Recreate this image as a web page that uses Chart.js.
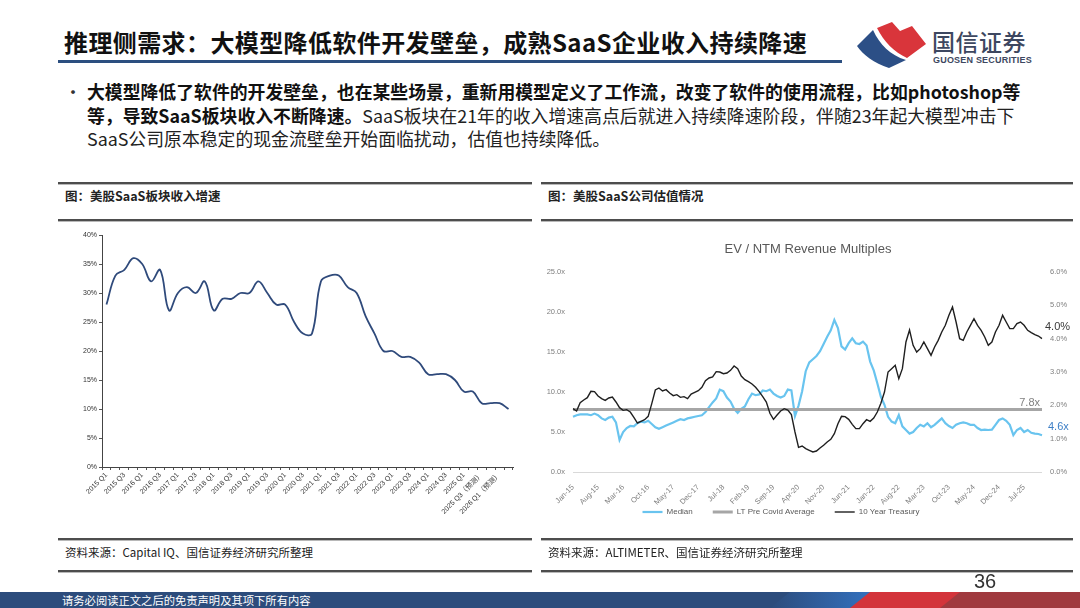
<!DOCTYPE html>
<html lang="zh-CN">
<head>
<meta charset="utf-8">
<title>推理侧需求</title>
<script src="https://cdn.jsdelivr.net/npm/chart.js@4.4.1/dist/chart.umd.min.js"></script>
<style>
html,body{margin:0;padding:0;background:#fff;}
body{width:1080px;height:608px;position:relative;overflow:hidden;font-family:"Noto Sans CJK SC","Noto Sans",sans-serif;color:#111;}
.a{position:absolute;white-space:nowrap;}
#title{left:64px;top:24px;font-size:24px;line-height:36px;font-weight:700;color:#111;letter-spacing:0.4px;}
#tbar{left:58px;top:60px;width:784px;height:3px;background:#2c4f80;}
#bullet{left:64px;top:80px;font-size:18px;line-height:23.5px;color:#333;}
#body{left:87px;top:80px;font-size:17.85px;line-height:23.5px;color:#222;}
#body b{font-weight:700;color:#111;}
.hl{height:0;border-top:2px solid #4d4d4d;border-bottom:1px solid #b8b8b8;}
.cap{font-size:12.5px;line-height:16px;font-weight:700;color:#222;}
.src{font-size:11.5px;line-height:16px;color:#222;}
#logo1{left:932px;top:26px;font-size:23px;line-height:30px;color:#3d4760;font-weight:500;letter-spacing:0.5px;}
#logo2{left:933px;top:55px;font-family:"Liberation Sans Narrow","Liberation Sans",sans-serif;font-size:9px;line-height:10px;font-weight:700;color:#3d4760;letter-spacing:0.2px;}
#pnum{left:974px;top:570px;font-family:"Liberation Sans Narrow","Liberation Sans",sans-serif;font-size:20px;line-height:22px;color:#333;}
#foot{left:62px;top:593px;font-size:11.3px;line-height:15px;color:#fff;}
</style>
</head>
<body>
<div class="a" id="title">推理侧需求：大模型降低软件开发壁垒，成熟SaaS企业收入持续降速</div>
<div class="a" id="tbar"></div>
<svg class="a" style="left:850px;top:16px" width="85" height="56" viewBox="850 16 85 56">
  <path d="M857 46 L873 30 C880 45 890 55 906 60 L889 68 C874 63 863 55 857 46 Z" fill="#2c4f86"/>
  <path d="M877 28 L892 22 L900 31 L912 26 L926 44 L907 58 C894 52 884 42 877 28 Z" fill="#d9353b"/>
</svg>
<div class="a" id="logo1">国信证券</div>
<div class="a" id="logo2">GUOSEN SECURITIES</div>

<div class="a" id="bullet">•</div>
<div class="a" id="body"><b>大模型降低了软件的开发壁垒，也在某些场景，重新用模型定义了工作流，改变了软件的使用流程，比如photoshop等</b><br><b>等，导致SaaS板块收入不断降速。</b>SaaS板块在21年的收入增速高点后就进入持续降速阶段，伴随23年起大模型冲击下<br>SaaS公司原本稳定的现金流壁垒开始面临扰动，估值也持续降低。</div>

<div class="a hl" style="left:58px;top:182px;width:474px"></div>
<div class="a hl" style="left:541px;top:182px;width:532px"></div>
<div class="a cap" style="left:65px;top:188px">图：美股SaaS板块收入增速</div>
<div class="a cap" style="left:548px;top:188px">图：美股SaaS公司估值情况</div>
<div class="a hl" style="left:58px;top:219px;width:474px"></div>
<div class="a hl" style="left:541px;top:219px;width:532px"></div>

<canvas class="a" id="cl" width="470" height="302" style="left:60px;top:225px;width:470px;height:302px"></canvas>
<canvas class="a" id="cr" width="534" height="320" style="left:541px;top:226px;width:534px;height:320px"></canvas>

<div class="a hl" style="left:58px;top:538px;width:474px"></div>
<div class="a hl" style="left:541px;top:538px;width:532px"></div>
<div class="a src" style="left:65px;top:544px">资料来源：Capital IQ、国信证券经济研究所整理</div>
<div class="a src" style="left:548px;top:544px">资料来源：ALTIMETER、国信证券经济研究所整理</div>
<div class="a hl" style="left:58px;top:570px;width:474px"></div>
<div class="a hl" style="left:541px;top:570px;width:532px"></div>
<div class="a" id="pnum">36</div>

<svg class="a" style="left:0;top:592px" width="1080" height="16">
  <defs>
    <linearGradient id="gb" x1="0" x2="1" y1="0" y2="0">
      <stop offset="0" stop-color="#2c4c7c"/><stop offset="1" stop-color="#3474c4"/>
    </linearGradient>
  </defs>
  <rect x="0" y="0" width="1080" height="16" fill="#2c4c7c"/>
  <polygon points="770,16 790,0 880,0 860,16" fill="url(#gb)"/>
  <polygon points="850,16 870,0 965,0 945,16" fill="#d3343b"/>
  <polygon points="940,16 960,0 1080,0 1080,16" fill="#a03a3f"/>
</svg>
<div class="a" id="foot">请务必阅读正文之后的免责声明及其项下所有内容</div>

<script>
// ---------- Left chart data: US SaaS revenue growth (%) ----------
const quarterLabels = [
  '2015 Q1','2015 Q2','2015 Q3','2015 Q4',
  '2016 Q1','2016 Q2','2016 Q3','2016 Q4',
  '2017 Q1','2017 Q2','2017 Q3','2017 Q4',
  '2018 Q1','2018 Q2','2018 Q3','2018 Q4',
  '2019 Q1','2019 Q2','2019 Q3','2019 Q4',
  '2020 Q1','2020 Q2','2020 Q3','2020 Q4',
  '2021 Q1','2021 Q2','2021 Q3','2021 Q4',
  '2022 Q1','2022 Q2','2022 Q3','2022 Q4',
  '2023 Q1','2023 Q2','2023 Q3','2023 Q4',
  '2024 Q1','2024 Q2','2024 Q3','2024 Q4',
  '2025 Q1','2025 Q2','2025 Q3（预测）','2025 Q4（预测）',
  '2026 Q1（预测）','2026 Q2（预测）'
];
const revenueGrowth = [
  28,33,34,36,35,32,34,27,30,31,30,32,27,29,29,30,30,32,30,28,28,25,23,
  23,32,33,33,31,30,26,23,20,20,19,19,18,16,16,16,15,13,13,11,11,11,10
];
const growthTicks = [0,5,10,15,20,25,30,35,40];

// ---------- Right chart data: EV / NTM revenue multiples ----------
const monthNames = ['Jan','Feb','Mar','Apr','May','Jun','Jul','Aug','Sep','Oct','Nov','Dec'];
const yearSuffixes = ['15','16','17','18','19','20','21','22','23','24','25'];
const monthLabels = yearSuffixes.flatMap(y => monthNames.map(m => m + '-' + y));
const medianMultiple = [
  6.9,7.1,7.2,7.2,7.2,7.1,7.3,7.1,6.7,6.5,6.8,6.9,
  6.2,4.0,5.0,5.5,5.75,5.7,6.1,6.3,6.2,6.4,6.0,5.6,
  5.4,5.6,5.8,6.0,6.2,6.4,6.6,6.5,6.7,6.8,6.9,7.0,
  7.1,7.5,8.1,8.7,9.2,10.3,10.1,9.3,8.8,7.9,7.4,7.9,
  8.2,9.1,9.8,9.6,9.7,10.2,10.1,10.3,9.8,9.5,9.3,9.5,
  10.3,10.2,7.0,8.3,10.1,12.6,13.7,14.1,14.5,15.1,16.0,16.9,
  17.7,19.0,18.0,15.7,15.3,16.1,16.7,16.1,16.0,16.3,15.8,13.8,
  12.7,11.1,9.4,8.4,6.9,6.3,6.1,7.1,5.7,5.25,4.8,5.0,
  5.5,5.9,5.7,6.1,5.6,5.9,6.3,6.7,6.1,5.75,5.5,5.9,
  6.1,6.2,6.1,5.9,5.9,5.5,5.25,5.3,5.25,5.3,5.9,6.5,
  6.7,6.4,5.9,4.6,5.25,5.5,5.0,5.25,4.9,4.8,4.75,4.6
];
const treasuryYield = [
  1.9,1.83,2.08,2.16,2.23,2.42,2.41,2.28,2.2,2.15,2.22,2.25,
  2.1,1.93,1.85,1.87,1.8,1.64,1.47,1.52,1.57,1.67,2.05,2.46,
  2.52,2.43,2.47,2.37,2.29,2.32,2.24,2.26,2.2,2.34,2.39,2.44,
  2.54,2.74,2.82,2.85,3.01,3.0,2.95,2.97,3.05,3.18,3.1,2.88,
  2.77,2.71,2.64,2.54,2.41,2.26,2.1,1.76,1.58,1.71,1.83,1.9,
  1.86,1.72,1.2,0.74,0.78,0.70,0.65,0.6,0.63,0.72,0.8,0.9,
  0.98,1.15,1.45,1.67,1.66,1.58,1.43,1.3,1.3,1.45,1.57,1.52,
  1.62,1.8,2.06,2.4,3.0,3.1,3.2,2.8,3.1,3.9,4.26,3.8,
  3.6,3.7,3.9,3.7,3.5,3.75,3.95,4.2,4.4,4.7,4.95,4.5,
  4.0,3.95,4.2,4.4,4.6,4.4,4.25,4.05,3.8,3.9,4.2,4.4,
  4.7,4.5,4.3,4.3,4.45,4.5,4.4,4.25,4.18,4.12,4.08,4.0
];
const LT_PRE_COVID_AVG = 7.8;
const multipleTicks = [0,5,10,15,20,25];
const yieldTicks = [0,1,2,3,4,5,6];
const labelEvery = 7;

const LATIN = '"Liberation Sans","Noto Sans CJK SC",sans-serif';
Chart.defaults.font.family = LATIN;
Chart.defaults.animation = false;

// ---------- Left chart ----------
new Chart(document.getElementById('cl'), {
  type: 'line',
  data: {
    labels: quarterLabels,
    datasets: [{
      data: revenueGrowth,
      borderColor: '#2f4a7b',
      borderWidth: 1.8,
      pointRadius: 0,
      tension: 0.4,
      fill: false
    }]
  },
  options: {
    responsive: false,
    animation: false,
    layout: { padding: { left: 0, right: 17, top: 10, bottom: 0 } },
    plugins: { legend: { display: false }, tooltip: { enabled: false }, title: { display: false } },
    scales: {
      x: {
        offset: true,
        grid: { offset: true, drawOnChartArea: false, color: '#555', tickColor: '#555', tickLength: 3 },
        border: { color: '#444', width: 1 },
        ticks: {
          autoSkip: false, minRotation: 45, maxRotation: 45, padding: 1,
          color: '#333', font: { size: 7, family: LATIN },
          callback: (v, i) => (i % 2 === 0 ? quarterLabels[i] : '')
        },
        afterFit: s => { s.height = 60; }
      },
      y: {
        min: 0, max: 40,
        afterBuildTicks: s => { s.ticks = growthTicks.map(v => ({ value: v })); },
        grid: { drawOnChartArea: false, color: '#555', tickColor: '#555', tickLength: 3 },
        border: { color: '#444', width: 1 },
        ticks: { color: '#333', font: { size: 7, family: LATIN }, padding: 2, callback: v => v + '%' },
        afterFit: s => { s.width = 42; }
      }
    }
  }
});

// ---------- Right chart ----------
const endLabels = {
  id: 'endLabels',
  afterDatasetsDraw(chart) {
    const { ctx, chartArea, scales } = chart;
    const last = medianMultiple.length - 1;
    ctx.save();
    ctx.textBaseline = 'middle';
    ctx.font = '11px ' + LATIN;
    ctx.fillStyle = '#808080';
    ctx.textAlign = 'right';
    ctx.fillText(LT_PRE_COVID_AVG.toFixed(1) + 'x', chartArea.right - 2, scales.y.getPixelForValue(LT_PRE_COVID_AVG) - 7);
    ctx.textAlign = 'left';
    ctx.fillStyle = '#3d7fc6';
    ctx.fillText(medianMultiple[last].toFixed(1) + 'x', chartArea.right + 6, scales.y.getPixelForValue(medianMultiple[last]) - 8);
    ctx.fillStyle = '#3a3a3a';
    ctx.fillText(treasuryYield[last].toFixed(1) + '%', chartArea.right + 3, scales.y2.getPixelForValue(treasuryYield[last]) - 12);
    ctx.restore();
  }
};
// nudge the legend left and up so it sits where the original one does
const legendShift = {
  id: 'legendShift',
  afterLayout(chart) {
    const lg = chart.legend;
    if (lg) { lg.left -= 54; lg.top -= 20; lg.bottom -= 20; }
  }
};

new Chart(document.getElementById('cr'), {
  type: 'line',
  data: {
    labels: monthLabels,
    datasets: [
      { label: 'Median', data: medianMultiple, yAxisID: 'y', borderColor: '#69c4ef', borderWidth: 2.2,
        pointRadius: 0, tension: 0, order: 3 },
      { label: 'LT Pre Covid Average', data: monthLabels.map(() => LT_PRE_COVID_AVG), yAxisID: 'y',
        borderColor: '#a6a6a6', borderWidth: 3, pointRadius: 0, tension: 0, order: 2 },
      { label: '10 Year Treasury', data: treasuryYield, yAxisID: 'y2', borderColor: '#1f1f1f', borderWidth: 1.4,
        pointRadius: 0, tension: 0, order: 1 }
    ]
  },
  options: {
    responsive: false,
    animation: false,
    layout: { padding: { left: 0, right: 0, top: 0, bottom: 0 } },
    plugins: {
      tooltip: { enabled: false },
      title: {
        display: true, text: 'EV / NTM Revenue Multiples', color: '#595959',
        font: { size: 13, family: LATIN, weight: 'normal' },
        padding: { top: 16, bottom: 14.4 }
      },
      legend: {
        position: 'bottom',
        labels: {
          usePointStyle: true, pointStyle: 'line', pointStyleWidth: 20,
          color: '#595959', font: { size: 8, family: LATIN }, padding: 20,
          sort: (a, b) => a.datasetIndex - b.datasetIndex
        }
      }
    },
    scales: {
      x: {
        offset: false,
        grid: { display: false },
        border: { display: false },
        ticks: {
          autoSkip: false, minRotation: 45, maxRotation: 45, padding: 3,
          color: '#7f7f7f', font: { size: 7.5, family: LATIN },
          callback: (v, i) => (i % labelEvery === 0 ? monthLabels[i] : '')
        },
        afterFit: s => { s.height = 36; }
      },
      y: {
        position: 'left', min: 0, max: 25,
        afterBuildTicks: s => { s.ticks = multipleTicks.map(v => ({ value: v })); },
        grid: { drawTicks: false, color: c => (c.tick && c.tick.value === 0 ? '#d9d9d9' : 'rgba(0,0,0,0)') },
        border: { display: false },
        ticks: { color: '#7f7f7f', font: { size: 7.5, family: LATIN }, padding: 8, callback: v => v.toFixed(1) + 'x' },
        afterFit: s => { s.width = 32; }
      },
      y2: {
        position: 'right', min: 0, max: 6,
        afterBuildTicks: s => { s.ticks = yieldTicks.map(v => ({ value: v })); },
        grid: { drawOnChartArea: false, drawTicks: false },
        border: { display: false },
        ticks: { color: '#7f7f7f', font: { size: 7.5, family: LATIN }, padding: 8, callback: v => v.toFixed(1) + '%' },
        afterFit: s => { s.width = 33; }
      }
    }
  },
  plugins: [endLabels, legendShift]
});
</script>
</body>
</html>
